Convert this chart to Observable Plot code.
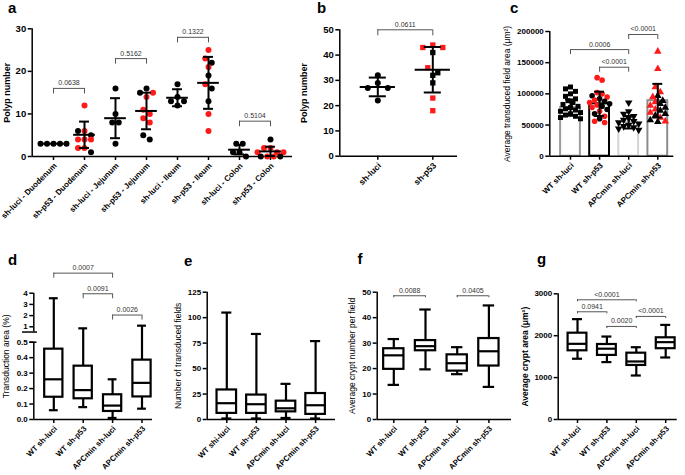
<!DOCTYPE html>
<html><head><meta charset="utf-8">
<script src="https://cdn.jsdelivr.net/npm/d3@7"></script>
<script src="https://cdn.jsdelivr.net/npm/@observablehq/plot@0.6"></script>
<style>
body{margin:0;background:#fff;}
#wrap{position:relative;width:685px;height:475px;overflow:hidden;background:#fff;font-family:"Liberation Sans",Arial,sans-serif;}
#wrap svg{position:absolute;left:0;top:0;}
.lab{position:absolute;font-weight:bold;font-size:15px;line-height:15px;color:#000;}
</style></head><body><div id="wrap"></div>
<script>
// ---------- Panel a ----------
const aCats = ["sh-luci - Duodenum","sh-p53 - Duodenum","sh-luci - Jejunum","sh-p53 - Jejunum","sh-luci - Ileum","sh-p53 - Ileum","sh-luci - Colon","sh-p53 - Colon"];
const aValues = [[3,3,3,3,3],[12,6,6,5,4,4,4,2,2,1],[16,10,8,8,3],[16,15,15,14,11,10,9,8,5,4],[17,14,13,13,12],[25,23,22,21,19,17,16,13,10,6],[3,3,1,1,0],[4,2,2,1,1,1,0,0,0,0]];
const aGroups = ["KKKKK","RRKKRRRRRK","KKKKK","KKRRRRRRKK","KKKKK","RRKRKRKKRR","KKKKK","KRRRRRRRKK"];
const aMean = [3,5.1,9,10.7,13.8,17.3,1.6,1.2];
const aSD = [0,3.1,4.7,4.3,2.0,6.1,1.1,1.1];
const aTicks = [0,10,20,30];
const aBrackets = [{from:0,to:1,level:16,p:"0.0638"},{from:2,to:3,level:23,p:"0.5162"},{from:4,to:5,level:28,p:"0.1322"},{from:6,to:7,level:8.3,p:"0.5104"}];

// ---------- Panel b ----------
const bCats = ["sh-luci","sh-p53"];
const bValues = [[32,29,27,27,22],[44,43,43,41,35,33,32,29,23,18]];
const bGroups = ["KKKKK","RRRKRKKKRR"];
const bMean = [27.4,34.2];
const bSD = [3.7,9.0];
const bTicks = [0,10,20,30,40,50];
const bBrackets = [{from:0,to:1,level:50,p:"0.0611"}];

// ---------- Panel c ----------
const cCats = ["WT sh-luci","WT sh-p53","APCmin sh-luci","APCmin sh-p53"];
const cValues = [
  [111000,108000,104000,100000,96000,92000,89000,86000,83000,80000,78000,76000,74000,72000,70000,68000,66000,64000,62000,60000],
  [126000,122000,102000,100000,97000,95000,92000,90000,88000,86000,84000,82000,80000,78000,75000,72000,68000,64000,60000,56000,54000],
  [86000,72000,68000,64000,61000,58000,56000,54000,52000,50000,48000,46000,44000,42000],
  [168000,140000,111000,103000,97000,95000,89000,87000,84000,81000,78000,75000,73000,70000,68000,65000,62000,58000,56000,55000]
];
const cGroups = ["KKKKKKKKKKKKKKKKKKKK","RRRRKRKRKRKRKRKRKRKRR","KKKKKKKKKKKKKK","RRRRKRKRKRKRKRKKRKRK"];
const cMean = [78000,84000,54500,89000];
const cSD = [13000,19500,10000,27000];
const cTicks = [0,50000,100000,150000,200000];
const cBrackets = [{from:0,to:2,level:171000,p:"0.0006"},{from:1,to:2,level:142700,p:"<0.0001"},{from:2,to:3,level:195200,p:"<0.0001"}];

// ---------- Panel d ----------
const dCats = ["WT sh-luci","WT sh-p53","APCmin sh-luci","APCmin sh-p53"];
const dMin = [0.06,0.08,0.01,0.07];
const dQ1 = [0.144,0.134,0.052,0.146];
const dMed = [0.26,0.19,0.09,0.237];
const dQ3 = [0.455,0.345,0.16,0.384];
const dMax = [3.55,0.95,0.26,1.1];
const dTicks = [0,0.1,0.2,0.3,0.4,0.5,1,2,3,4];
const dBrackets = [{from:0,to:2,level:5.79,p:"0.0007"},{from:1,to:2,level:3.95,p:"0.0091"},{from:2,to:3,level:2.05,p:"0.0026"}];

// ---------- Panel e ----------
const eCats = ["WT shi-luci","WT sh-p53","APCmin sh-luci","APCmin sh-p53"];
const eMin = [1,1,1.5,1];
const eQ1 = [6,6,7.5,5];
const eMed = [16,15,11,14];
const eQ3 = [29,24,18,25.5];
const eMax = [105,84,35,77];
const eTicks = [0,25,50,75,100,125];

// ---------- Panel f ----------
const fCats = ["WT sh-luci","WT sh-p53","APCmin sh-luci","APCmin sh-p53"];
const fMin = [13.6,19.7,17.8,12.8];
const fQ1 = [19.7,27,19,21];
const fMed = [25.2,28.8,22.1,26.8];
const fQ3 = [27.8,31,25.4,31.8];
const fMax = [31.6,43.2,28.4,44.8];
const fTicks = [0,10,20,30,40,50];
const fBrackets = [{from:0,to:1,level:48.6,p:"0.0088"},{from:2,to:3,level:48.6,p:"0.0405"}];

// ---------- Panel g ----------
const gCats = ["WT sh-luci","WT sh-p53","APCmin sh-luci","APCmin sh-p53"];
const gMin = [1450,1370,1050,1480];
const gQ1 = [1640,1530,1290,1690];
const gMed = [1806,1690,1385,1846];
const gQ3 = [2060,1790,1583,1950];
const gMax = [2395,1980,1725,2258];
const gTicks = [0,1000,2000,3000];
const gBrackets = [{from:0,to:2,level:2857,p:"<0.0001"},{from:0,to:1,level:2571,p:"0.0941"},{from:1,to:2,level:2221,p:"0.0020"},{from:2,to:3,level:2460,p:"<0.0001"}];

// ================= rendering =================
const W = 685, H = 475;
const FONT = '"Liberation Sans", Arial, sans-serif';
const wrap = document.getElementById("wrap");

function frameOpts(L) {
  const xl = -(L.c0 - L.axisX) / L.step, xr = (L.axisRight - L.c0) / L.step;
  return {
    xl, xr,
    base: {
      width: W, height: H,
      marginLeft: L.axisX, marginRight: W - L.axisRight, marginTop: L.yTop, marginBottom: H - L.y0,
      x: {type: "linear", domain: [xl, xr], range: [L.axisX, L.axisRight]},
      y: L.y,
      style: {background: "transparent", fontFamily: FONT, overflow: "visible"}
    }
  };
}

function axes(L, f, cats, ticks, o) {
  const marks = [
    Plot.axisY({ticks, tickSize: 4, tickPadding: 2, tickFormat: o.yFmt || (d => String(d)), fontSize: o.yFont, fontWeight: "bold", strokeWidth: 1.5, label: null}),
    Plot.axisX({ticks: d3.range(cats.length), tickSize: 4, tickFormat: () => "", strokeWidth: 1.5, label: null}),
    Plot.text(cats.map((c, i) => ({i, c})), {x: "i", text: "c", frameAnchor: "bottom", dx: o.xdx ?? 2, dy: o.xdy ?? 8, rotate: -45, textAnchor: "end", lineAnchor: "middle", fontSize: o.xFont, fontWeight: "bold"}),
    Plot.ruleY([0], {x1: f.xl, x2: f.xr, strokeWidth: 1.5})
  ];
  if (!o.noYLine) marks.push(Plot.ruleX([f.xl], {y1: 0, y2: ticks[ticks.length - 1], strokeWidth: 1.5}));
  marks.push(Plot.text([o.title], {frameAnchor: "left", dx: o.titleX - L.axisX, dy: o.titleDy || 0, rotate: -90, textAnchor: "middle", lineAnchor: "middle", fontSize: o.titleFont, fontWeight: o.titleBold ? "bold" : "normal"}));
  return marks;
}

function bracketMarks(list, drop, fs = 7) {
  return [
    Plot.ruleY(list, {x1: "from", x2: "to", y: "level", stroke: "#555", strokeWidth: 1}),
    Plot.ruleX(list, {x: "from", y1: "level", y2: d => d.level - drop, stroke: "#555", strokeWidth: 1}),
    Plot.ruleX(list, {x: "to", y1: "level", y2: d => d.level - drop, stroke: "#555", strokeWidth: 1}),
    Plot.text(list, {x: d => (d.from + d.to) / 2, y: "level", text: "p", dy: -3, lineAnchor: "bottom", fontSize: fs, fill: "#333"})
  ];
}

function jitter(values, groups, tol, spacing) {
  const out = [];
  values.forEach((arr, ci) => {
    const pts = arr.map((v, k) => ({ci, v, g: groups[ci][k]})).sort((a, b) => b.v - a.v);
    let row = [];
    const flush = () => {
      const k = row.length, slots = [];
      if (k % 2) { slots.push(0); for (let s = 1; slots.length < k; s++) { slots.push(-s); if (slots.length < k) slots.push(s); } }
      else { for (let s = 0.5; slots.length < k; s++) { slots.push(-s); slots.push(s); } }
      row.forEach((p, j) => out.push({...p, x: ci + slots[j] * spacing}));
      row = [];
    };
    for (const p of pts) { if (row.length && row[0].v - p.v > tol) flush(); row.push(p); }
    flush();
  });
  return out;
}

function summary(mean, sd) { return mean.map((m, i) => ({i, m, lo: m - sd[i], hi: m + sd[i]})); }

function errMarks(s, meanHalf, capHalf, sw = 2) {
  const e = s.filter(d => d.hi > d.lo);
  const m = [
    Plot.ruleX(e, {x: "i", y1: "lo", y2: "hi", strokeWidth: sw}),
    Plot.ruleY(e, {x1: d => d.i - capHalf, x2: d => d.i + capHalf, y: "lo", strokeWidth: sw}),
    Plot.ruleY(e, {x1: d => d.i - capHalf, x2: d => d.i + capHalf, y: "hi", strokeWidth: sw})
  ];
  if (meanHalf) m.push(Plot.ruleY(s, {x1: d => d.i - meanHalf, x2: d => d.i + meanHalf, y: "m", strokeWidth: sw}));
  return m;
}

function boxMarks(mn, q1, md, q3, mx, hw, cw, sw = 2.2) {
  const rows = mn.map((_, i) => ({i, mn: mn[i], q1: q1[i], md: md[i], q3: q3[i], mx: mx[i]}));
  return [
    Plot.ruleX(rows, {x: "i", y1: "mn", y2: "q1", strokeWidth: sw}),
    Plot.ruleX(rows, {x: "i", y1: "q3", y2: "mx", strokeWidth: sw}),
    Plot.ruleY(rows, {x1: d => d.i - cw, x2: d => d.i + cw, y: "mn", strokeWidth: sw}),
    Plot.ruleY(rows, {x1: d => d.i - cw, x2: d => d.i + cw, y: "mx", strokeWidth: sw}),
    Plot.rect(rows, {x1: d => d.i - hw, x2: d => d.i + hw, y1: "q1", y2: "q3", fill: "white", stroke: "black", strokeWidth: sw}),
    Plot.ruleY(rows, {x1: d => d.i - hw, x2: d => d.i + hw, y: "md", strokeWidth: sw})
  ];
}

const colorScale = {domain: ["K", "R"], range: ["#000000", "#ff1a1a"]};
function add(svg) { wrap.appendChild(svg); }

// ---- a ----
{
  const L = {axisX: 31.7, axisRight: 292, y0: 156, yTop: 28.3, c0: 53, step: 31, y: {type: "linear", domain: [0, 30], range: [156, 28.3]}};
  const f = frameOpts(L);
  const pts = jitter(aValues, aGroups, 1.3, 6.5 / L.step);
  add(Plot.plot({...f.base, color: colorScale, marks: [
    ...axes(L, f, aCats, aTicks, {yFont: 9.5, xFont: 8, title: "Polyp number", titleX: 6.5, titleFont: 9, titleBold: true}),
    ...bracketMarks(aBrackets, 1.3),
    Plot.dot(pts, {x: "x", y: "v", fill: "g", r: 3, stroke: null}),
    ...errMarks(summary(aMean, aSD), 0.35, 0.16)
  ]}));
}
// ---- b ----
{
  const L = {axisX: 339.3, axisRight: 457, y0: 155.7, yTop: 29.3, c0: 377.3, step: 55, y: {type: "linear", domain: [0, 50], range: [155.7, 29.3]}};
  const f = frameOpts(L);
  const pts = jitter(bValues, bGroups, 2.3, 10 / L.step);
  add(Plot.plot({...f.base, color: colorScale, symbol: {domain: [0, 1], range: ["circle", "square"]}, marks: [
    ...axes(L, f, bCats, bTicks, {yFont: 9.5, xFont: 8.5, title: "Polyp number", titleX: 303.5, titleFont: 9, titleBold: true}),
    ...bracketMarks(bBrackets, 2.4),
    Plot.dot(pts, {x: "x", y: "v", fill: "g", symbol: "ci", r: 3, stroke: null}),
    ...errMarks(summary(bMean, bSD), 0.32, 0.155)
  ]}));
}
// ---- c ----
{
  const L = {axisX: 549.3, axisRight: 673.3, y0: 155.7, yTop: 31, c0: 570, step: 29.1, y: {type: "linear", domain: [0, 200000], range: [155.7, 31]}};
  const f = frameOpts(L);
  const pts = jitter(cValues, cGroups, 9000, 5 / L.step);
  const s = summary(cMean, cSD);
  add(Plot.plot({...f.base, color: colorScale, symbol: {domain: [0, 1, 2, 3], range: ["square", "circle", "triangle", "triangle"]}, marks: [
    Plot.rectY(s, {x1: d => d.i - 0.34, x2: d => d.i + 0.34, y: "m", fill: "white", stroke: d => ["#9c9c9c", "#000000", "#d4d4d4", "#8c8c8c"][d.i], strokeWidth: 2}),
    ...axes(L, f, cCats, cTicks, {yFont: 8, xFont: 8, title: "Average transduced field area (μm²)", titleX: 507, titleFont: 8.5}),
    ...bracketMarks(cBrackets, 8000),
    Plot.dot(pts, {x: "x", y: "v", fill: "g", symbol: "ci", rotate: d => d.ci === 2 ? 180 : 0, r: 2.8, stroke: null}),
    ...errMarks(s, 0, 0.17)
  ]}));
}
// ---- d ----
{
  const L = {axisX: 33.3, axisRight: 152, y0: 419, yTop: 292.7, c0: 53.3, step: 29.4, y: {type: "linear", domain: [0, 0.5, 1, 4], range: [419, 341.7, 326.3, 292.7]}};
  const f = frameOpts(L);
  const px = p => f.xl + (p - L.axisX) / L.step;
  add(Plot.plot({...f.base, marks: [
    ...axes(L, f, dCats, dTicks, {yFont: 8, xFont: 7.8, title: "Transduction area (%)", titleX: 6, titleFont: 8.5, noYLine: true, yFmt: d => d < 1 ? d.toFixed(1) : String(d)}),
    Plot.ruleX([f.xl], {y1: 0, y2: 0.5, strokeWidth: 1.5}),
    Plot.ruleX([f.xl], {y1: 0.83, y2: 4, strokeWidth: 1.5}),
    Plot.ruleY([0.5], {x1: px(29.3), x2: px(36.5), strokeWidth: 1.5}),
    Plot.ruleY([0.83], {x1: px(22), x2: px(37), strokeWidth: 1.5}),
    ...bracketMarks(dBrackets, 0.45),
    ...boxMarks(dMin, dQ1, dMed, dQ3, dMax, 0.31, 0.15)
  ]}));
}
// ---- e ----
{
  const L = {axisX: 206.7, axisRight: 335, y0: 419, yTop: 291.7, c0: 226.3, step: 29.6, y: {type: "linear", domain: [0, 125], range: [419, 291.7]}};
  const f = frameOpts(L);
  add(Plot.plot({...f.base, marks: [
    ...axes(L, f, eCats, eTicks, {yFont: 8, xFont: 7.8, title: "Number of transduced fields", titleX: 177.5, titleFont: 8.5}),
    ...boxMarks(eMin, eQ1, eMed, eQ3, eMax, 0.33, 0.17)
  ]}));
}
// ---- f ----
{
  const L = {axisX: 376.7, axisRight: 511, y0: 419, yTop: 291.7, c0: 393.3, step: 31.7, y: {type: "linear", domain: [0, 50], range: [419, 291.7]}};
  const f = frameOpts(L);
  add(Plot.plot({...f.base, marks: [
    ...axes(L, f, fCats, fTicks, {yFont: 8, xFont: 7.8, title: "Average crypt number per field", titleX: 351.5, titleFont: 8.5}),
    ...bracketMarks(fBrackets, 0.8),
    ...boxMarks(fMin, fQ1, fMed, fQ3, fMax, 0.32, 0.18)
  ]}));
}
// ---- g ----
{
  const L = {axisX: 557.7, axisRight: 676.7, y0: 419, yTop: 293.3, c0: 577, step: 29.4, y: {type: "linear", domain: [0, 3000], range: [419, 293.3]}};
  const f = frameOpts(L);
  add(Plot.plot({...f.base, marks: [
    ...axes(L, f, gCats, gTicks, {yFont: 8, xFont: 7.8, title: "Average crypt area (μm²)", titleX: 525, titleFont: 8.5, titleBold: true}),
    ...bracketMarks(gBrackets, 50),
    ...boxMarks(gMin, gQ1, gMed, gQ3, gMax, 0.32, 0.17)
  ]}));
}
// panel letters
[["a", 8, 0], ["b", 317, 0], ["c", 510, 0], ["d", 8, 251.5], ["e", 184, 252.5], ["f", 357.5, 250.5], ["g", 537, 250.5]].forEach(([t, x, y]) => {
  const el = document.createElement("div");
  el.className = "lab"; el.textContent = t; el.style.left = x + "px"; el.style.top = y + "px";
  wrap.appendChild(el);
});
</script></body></html>
